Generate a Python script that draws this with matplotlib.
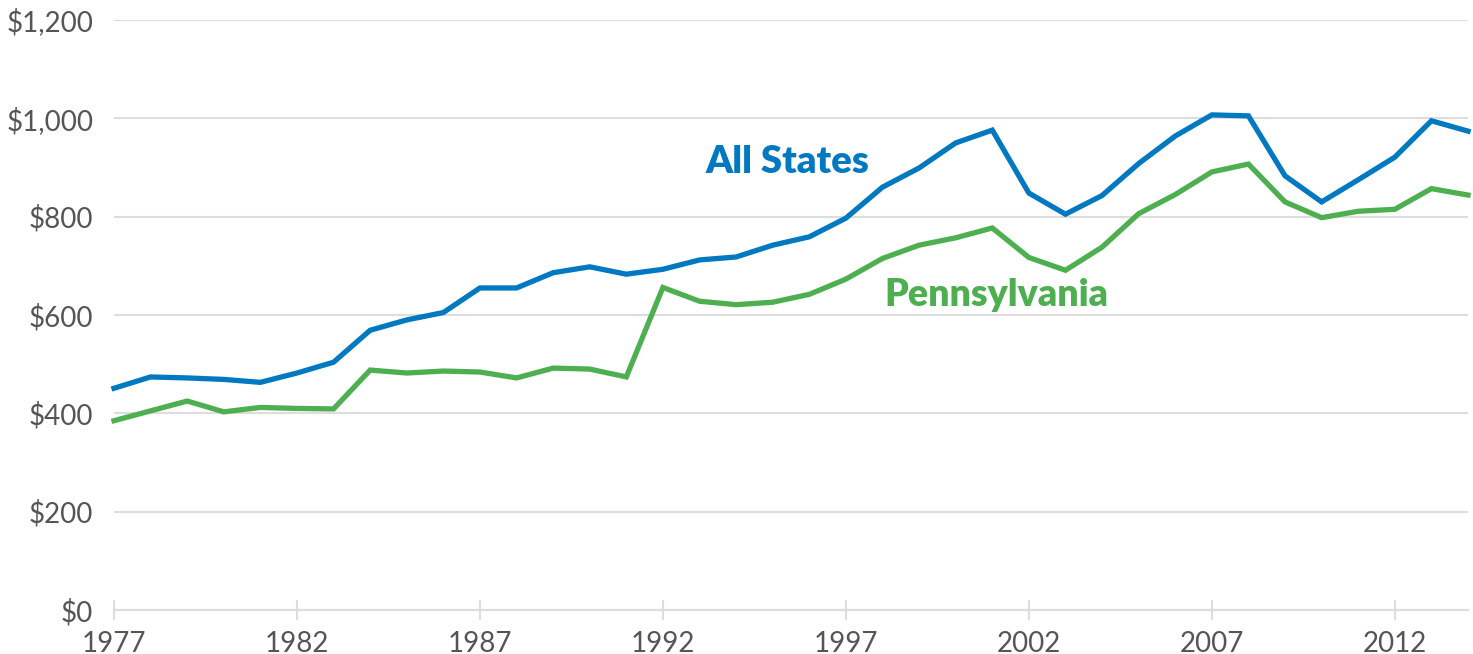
import matplotlib
matplotlib.use("Agg")
import matplotlib.pyplot as plt

years = list(range(1977, 2015))
all_states = [451, 474, 472, 469, 463, 482, 504, 569, 590, 605, 655, 655, 686, 698, 683, 693,
              712, 718, 742, 759, 797, 860, 899, 950, 976, 848, 805, 843, 908, 964, 1007, 1005,
              883, 830, 875, 921, 995, 974]
pennsylvania = [385, 405, 425, 403, 412, 410, 409, 488, 482, 486, 484, 472, 492, 490, 474, 656,
                628, 621, 626, 642, 673, 715, 742, 757, 777, 717, 691, 738, 806, 845, 891, 907,
                830, 798, 811, 815, 857, 844]
yticks = [0, 200, 400, 600, 800, 1000, 1200]
ytick_labels = ["$0", "$200", "$400", "$600", "$800", "$1,000", "$1,200"]
xticks = [1977, 1982, 1987, 1992, 1997, 2002, 2007, 2012]

blue = "#0079C1"
green = "#4DAF50"
txt = "#555555"
grid = "#DDDDDD"

plt.rcParams['font.family'] = ['Lato', 'DejaVu Sans']

fig = plt.figure(figsize=(14.73, 6.54), dpi=100)
ax = fig.add_axes([114/1473, 1 - 610/654, (1468-114)/1473, 590/654])

ax.plot(years, all_states, color=blue, lw=3.8, solid_joinstyle='miter', zorder=3, clip_on=False)
ax.plot(years, pennsylvania, color=green, lw=3.8, solid_joinstyle='miter', zorder=3, clip_on=False)

ax.set_xlim(1977, 2014)
ax.set_ylim(0, 1200)
ax.set_yticks(yticks)
ax.set_yticklabels(ytick_labels)
ax.set_xticks(xticks)
ax.set_xticklabels([str(x) for x in xticks])

for s in ['top', 'right', 'left']:
    ax.spines[s].set_visible(False)
ax.spines['bottom'].set_color(grid)
ax.spines['bottom'].set_linewidth(1.5)

ax.grid(axis='y', color=grid, lw=1.5, zorder=0)
ax.set_axisbelow(True)
ax.tick_params(axis='y', length=0, pad=15, labelsize=20, labelcolor=txt)
ax.tick_params(axis='x', direction='inout', length=14, width=1.5, color=grid,
               pad=8, labelsize=20, labelcolor=txt)

ax.text(1993.15, 912, "All States", color=blue, fontsize=27.5, fontweight='heavy',
        ha='left', va='center')
ax.text(1998.05, 640, "Pennsylvania", color=green, fontsize=27, fontweight='heavy',
        ha='left', va='center')

fig.savefig("out.png", dpi=100, facecolor='white')
